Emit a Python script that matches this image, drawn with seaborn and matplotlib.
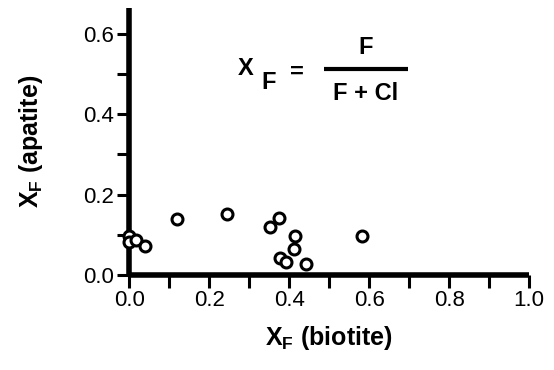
import matplotlib
matplotlib.use("Agg")
import matplotlib.pyplot as plt
import seaborn as sns
import pandas as pd
from matplotlib.ticker import MultipleLocator

sns.set_theme(style="ticks")
plt.rcParams['font.family'] = ['Liberation Sans', 'DejaVu Sans']
plt.rcParams['mathtext.fontset'] = 'custom'
plt.rcParams['mathtext.rm'] = 'Liberation Sans:bold'
plt.rcParams['mathtext.bf'] = 'Liberation Sans:bold'
plt.rcParams['text.color'] = 'black'
plt.rcParams['axes.labelcolor'] = 'black'
plt.rcParams['xtick.color'] = 'black'
plt.rcParams['ytick.color'] = 'black'
plt.rcParams['xtick.labelcolor'] = 'black'
plt.rcParams['ytick.labelcolor'] = 'black'

xf_biotite = [0.000, 0.000, 0.017, 0.039, 0.119, 0.244, 0.351, 0.375, 0.414, 0.411, 0.378, 0.392, 0.442, 0.581]
xf_apatite = [0.096, 0.081, 0.088, 0.073, 0.140, 0.152, 0.120, 0.142, 0.098, 0.065, 0.042, 0.031, 0.026, 0.098]
df = pd.DataFrame({"biotite": xf_biotite, "apatite": xf_apatite})

fig = plt.figure(figsize=(5.54, 3.70), dpi=100)
ax = fig.add_axes([0.2334, 0.257, 0.7215, 0.7222])

sns.scatterplot(data=df, x="biotite", y="apatite", ax=ax, marker="o", s=62,
                facecolor="white", edgecolor="black", linewidth=2.2, clip_on=False, zorder=5)

ax.set_xlim(0, 1.0)
ax.set_ylim(0, 0.665)
ax.xaxis.set_major_locator(MultipleLocator(0.2))
ax.xaxis.set_minor_locator(MultipleLocator(0.1))
ax.yaxis.set_major_locator(MultipleLocator(0.2))
ax.yaxis.set_minor_locator(MultipleLocator(0.1))
ax.xaxis.set_major_formatter(plt.FuncFormatter(lambda v, p: f"{v:.1f}"))
ax.yaxis.set_major_formatter(plt.FuncFormatter(lambda v, p: f"{v:.1f}"))

for s in ["top", "right"]:
    ax.spines[s].set_visible(False)
for s in ["left", "bottom"]:
    ax.spines[s].set_linewidth(4.0)
    ax.spines[s].set_color("black")
    ax.spines[s].set_capstyle("butt")

ax.tick_params(which="both", direction="out", width=2.2, color="black", labelcolor="black",
               labelsize=16, pad=2, length=9)

ax.set_xlabel(r"X$_\mathrm{F}$ (biotite)", fontsize=18, fontweight="bold", color="black")
ax.set_ylabel(r"X$_\mathrm{F}$ (apatite)", fontsize=18, fontweight="bold", color="black")
ax.xaxis.set_label_coords(0.5, -0.185)
ax.yaxis.set_label_coords(-0.21, 0.5)

# formula
ax.text(0.291, 0.772, r"X", transform=ax.transAxes, fontsize=17, fontweight="bold", ha="center", va="center", color="black")
ax.text(0.349, 0.721, r"F", transform=ax.transAxes, fontsize=17, fontweight="bold", ha="center", va="center", color="black")
ax.text(0.42, 0.757, "=", transform=ax.transAxes, fontsize=17, fontweight="bold", ha="center", va="center", color="black")
ax.plot([0.486, 0.697], [0.77, 0.77], transform=ax.transAxes, color="black", lw=3.0, clip_on=False,
        solid_capstyle="butt")
ax.text(0.591, 0.852, "F", transform=ax.transAxes, fontsize=17, fontweight="bold", ha="center", va="center", color="black")
ax.text(0.592, 0.68, "F + Cl", transform=ax.transAxes, fontsize=17, fontweight="bold", ha="center", va="center", color="black")

fig.savefig("out.png", dpi=100)
